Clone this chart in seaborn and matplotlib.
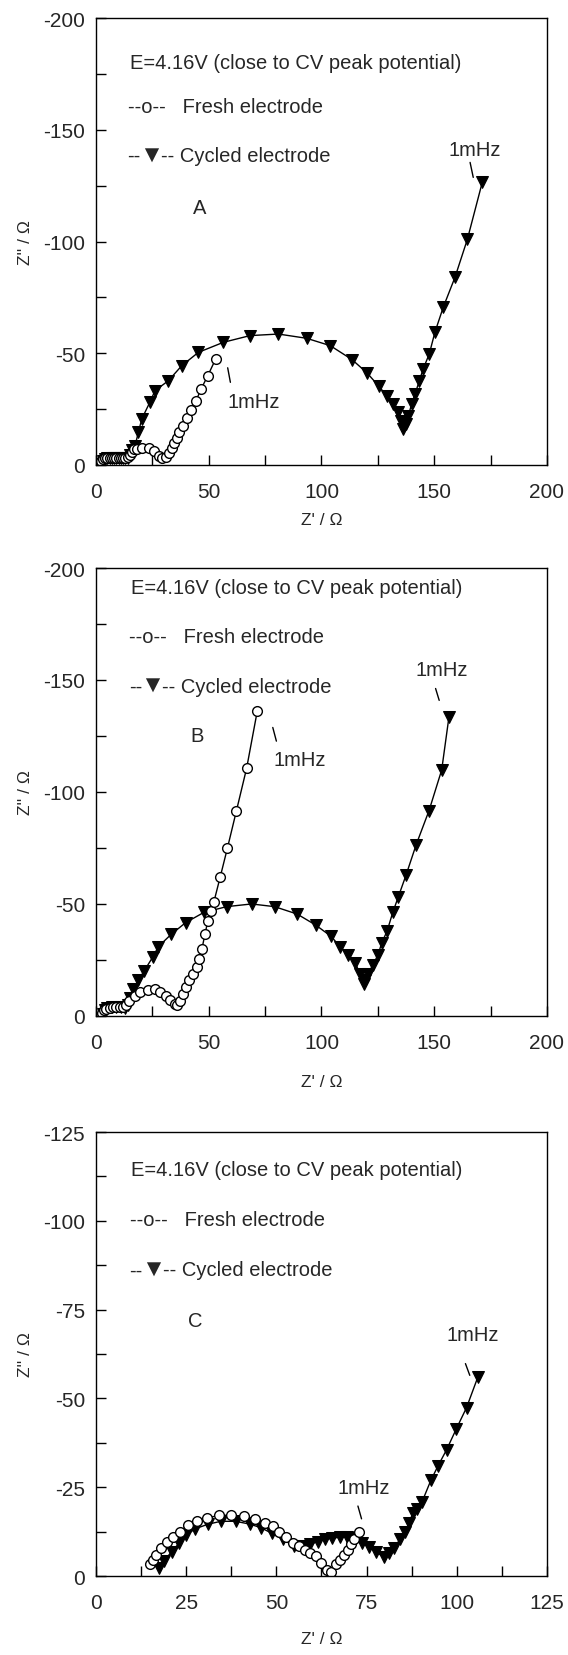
import matplotlib
matplotlib.use("Agg")
import matplotlib.pyplot as plt
from matplotlib.ticker import MultipleLocator
from matplotlib import transforms
import seaborn as sns

# ---------------- data ----------------
# Panel A
A_fresh_x = [1, 2, 3, 4, 5, 6, 7, 8, 9, 10, 11, 12, 13, 14, 15, 16, 17, 18.2, 20.4, 23.4, 25.7,
             27.9, 29.4, 30.9, 32.4, 33.6, 34.6, 35.8, 36.9, 38.4, 40.3, 42.1, 44.3, 46.6, 49.6, 53.0]
A_fresh_y = [-1, -2, -2.5, -3, -3, -3, -3, -3, -3, -3, -3, -3, -3, -3.5, -4.5, -6, -7, -7.1, -7.5, -7.4, -6.4,
             -4.1, -3, -3.4, -5.3, -7.8, -10, -12.3, -14.8, -17.5, -21.2, -24.6, -28.6, -34, -40, -47.3]
A_cyc_x = [2.5, 3, 4, 5, 6, 7, 8, 9, 10, 11, 12, 13, 14, 15, 16, 17.3, 18.8, 20.3, 23.9, 26.2, 32.1,
           38, 45.4, 56.5, 68.3, 80.9, 93.4, 103.9, 113.5, 120.2, 125.4, 128.9, 131.8, 134, 135.3, 136.3,
           137.4, 138.5, 140, 141.5, 143.4, 145.1, 147.8, 150.3, 154, 159.2, 164.7, 171.3]
A_cyc_y = [-0.4, -2, -2.5, -3, -3, -3, -3, -3, -3, -3, -3, -3, -3, -4.5, -6.5, -8.6, -14.6, -20.6, -28.1, -33.3, -37.7,
           -44.4, -50.4, -54.9, -57.9, -58.6, -56.7, -53.4, -47.2, -41.2, -35.3, -31, -27.3, -23.6, -19.5, -16.1,
           -18.5, -22, -27.3, -31.8, -37.7, -43, -49.7, -59.4, -70.6, -84, -101, -126.5]

# Panel B
B_fresh_x = [2.7, 3.5, 4.5, 6, 7.5, 9, 10.5, 12, 13.5, 14.8, 17.2, 19.6, 22.9, 26.1, 28.5, 30.9, 32.9, 35,
             36.1, 37.4, 38.6, 39.8, 41.4, 43, 44.6, 45.9, 47, 48.3, 49.6, 51, 52.3, 55.1, 58.3, 62.3, 66.8, 71.5]
B_fresh_y = [-1.5, -2.5, -3, -3.5, -4, -4, -4, -4, -5, -6.8, -9.1, -10.6, -11.8, -12.1, -10.9, -9.1, -7.1, -5.3,
             -4.8, -6.8, -9.8, -12.9, -15.9, -18.9, -22, -25.5, -30, -36.4, -42.4, -47, -51, -62.1, -75, -91.7, -110.6, -136]
B_cyc_x = [3, 4, 5, 7, 9, 11, 13, 14, 15, 16.4, 18.8, 21.3, 25.3, 27.7, 33.3, 39.8, 47.8, 57.9, 69, 79.2,
           89.2, 97.4, 104.2, 108.2, 111.8, 115, 117.1, 118.7, 119.5, 120.8, 122.7, 125.1, 126.7, 129.1,
           131.6, 134, 137.5, 142, 147.7, 153.3, 156.5]
B_cyc_y = [-0.8, -2.5, -3.5, -4, -4, -4, -3.5, -5, -8, -12, -15.9, -20, -26.5, -31, -36.4, -41.7, -46.2, -48.8, -50, -48.8,
           -45.5, -40.6, -35.6, -31, -27.3, -23.5, -18.9, -14.4, -16, -18.9, -22.7, -27.3, -32.6, -37.9,
           -46.2, -53, -62.9, -76.5, -91.7, -109.8, -133.3]

# Panel C
C_fresh_x = [14.9, 15.8, 16.6, 17.9, 19.6, 21.3, 23.2, 25.5, 28, 30.8, 34.1, 37.4, 40.9, 44.2, 46.8, 49,
             50.8, 52.8, 54.7, 56.4, 57.9, 59.4, 60.9, 62.5, 64, 65.2, 66.5, 67.7, 68.8, 69.8, 70.6, 71.6, 72.9]
C_fresh_y = [-3.3, -4.5, -5.9, -7.9, -9.7, -11, -12.5, -14.4, -15.4, -16.3, -17.1, -17.1, -16.8, -16.1, -14.8, -14.1,
             -12.5, -11, -9.4, -8.4, -7.4, -6.6, -5.5, -3.8, -1.7, -1.2, -3.3, -4.5, -5.9, -7.4, -8.9, -10.3, -12.5]
C_cyc_x = [17.4, 18.9, 21, 23, 25, 27.5, 31.1, 34.6, 38.7, 42.7, 45.7, 48.8, 51.8, 54.9, 57.4, 59.4, 61.4,
           63.5, 65.5, 67.5, 69.5, 71.6, 73.6, 75.6, 77.6, 79.7, 81.2, 82.7, 84.2, 85.7, 86.8, 87.8, 89, 90.3,
           92.8, 94.8, 97.2, 99.9, 102.7, 105.8]
C_cyc_y = [-2.3, -4.3, -6.9, -9.2, -11.5, -13.3, -14.6, -15.4, -15.4, -14.6, -13.6, -12, -10.3, -8.4, -8.4, -8.9, -9.7,
           -10.3, -10.7, -10.9, -10.9, -10.7, -9.4, -8.2, -6.9, -5.3, -6.4, -7.9, -10.3, -12.5, -15, -17.7, -19, -20.7,
           -26.9, -31, -35.6, -41.5, -47.4, -55.9]

panel_letters = ["A", "B", "C"]
title_text = "E=4.16V (close to CV peak potential)"
legend_fresh = "--o--   Fresh electrode"
legend_cycled_parts = ["--", "\u25BC", "-- Cycled electrode"]
x_label = "Z' / \u03A9"
y_label = "Z'' / \u03A9"

# ---------------- style ----------------
sns.set_theme(style="ticks")
plt.rcParams["font.family"] = ["Liberation Sans", "DejaVu Sans"]
plt.rcParams["axes.unicode_minus"] = False

FS = 14.5
fig = plt.figure(figsize=(5.68, 16.56), dpi=100)
fig.canvas.draw()
renderer = fig.canvas.get_renderer()

panels = [
    dict(rect=[0.169, 0.7186, 0.794, 0.2699], xmax=200, ymin=-200, xstep=50, ystep=50, xpad=8,
         fresh=(A_fresh_x, A_fresh_y), cyc=(A_cyc_x, A_cyc_y),
         txt=dict(E=(15, -180), F=(14, -160.5), Cy=(14, -138.5), L=(46, -115)),
         ann=[((168, -141), (165.9, -135.4), (167.3, -128.7)),
              ((70, -28.5), (58.4, -43.5), (59.6, -37))]),
    dict(rect=[0.169, 0.3859, 0.794, 0.2705], xmax=200, ymin=-200, xstep=50, ystep=50, xpad=16,
         fresh=(B_fresh_x, B_fresh_y), cyc=(B_cyc_x, B_cyc_y),
         txt=dict(E=(15.5, -191.5), F=(14.5, -169.5), Cy=(14.5, -147.3), L=(44.6, -125)),
         ann=[((153.3, -154.5), (150.6, -146.2), (152.2, -140.9)),
              ((90.5, -114.4), (78.4, -128.8), (80, -122.7))]),
    dict(rect=[0.169, 0.0477, 0.794, 0.2681], xmax=125, ymin=-125, xstep=25, ystep=25, xpad=14,
         fresh=(C_fresh_x, C_fresh_y), cyc=(C_cyc_x, C_cyc_y),
         txt=dict(E=(9.8, -114.4), F=(9.3, -100.3), Cy=(9.3, -86.2), L=(27.5, -72)),
         ann=[((104.5, -68), (102.4, -59.8), (103.6, -56.5)),
              ((74.1, -24.8), (72.6, -19.7), (73.6, -16.1))]),
]

for i, p in enumerate(panels):
    ax = fig.add_axes(p["rect"])
    fx, fy = p["fresh"]
    cx, cy = p["cyc"]
    sns.lineplot(x=cx, y=cy, ax=ax, sort=False, estimator=None, color="black", linewidth=1.0,
                 marker="v", markersize=8.5, markerfacecolor="black", markeredgecolor="black")
    sns.lineplot(x=fx, y=fy, ax=ax, sort=False, estimator=None, color="black", linewidth=1.0,
                 marker="o", markersize=7, markerfacecolor="white", markeredgecolor="black",
                 markeredgewidth=1.0)
    ax.set_xlim(0, p["xmax"])
    ax.set_ylim(0, p["ymin"])
    ax.xaxis.set_major_locator(MultipleLocator(p["xstep"]))
    ax.xaxis.set_minor_locator(MultipleLocator(p["xstep"] / 2))
    ax.yaxis.set_major_locator(MultipleLocator(p["ystep"]))
    ax.yaxis.set_minor_locator(MultipleLocator(p["ystep"] / 2))
    ax.tick_params(axis="both", which="both", direction="in", length=7, width=1.0, color="black",
                   top=False, right=False)
    ax.tick_params(axis="x", which="major", labelsize=15, pad=12)
    ax.tick_params(axis="y", which="major", labelsize=15, pad=8)
    for s in ax.spines.values():
        s.set_visible(True)
        s.set_color("black")
        s.set_linewidth(1.0)
    ax.set_xlabel(x_label, fontsize=12.5, labelpad=p["xpad"])
    ax.set_ylabel(y_label, fontsize=12.5, labelpad=7)
    ax.grid(False)
    ax.set_facecolor("white")

    t = p["txt"]
    ax.text(*t["E"], title_text, fontsize=FS, ha="left", va="center")
    ax.text(*t["F"], legend_fresh, fontsize=FS, ha="left", va="center")
    # cycled legend line built from chained pieces (larger triangle glyph), tightly spaced
    tr = ax.transData
    sizes = [FS, FS + 3, FS]
    trims = [-1.5, -2.5, 0]
    for part, fs, trim in zip(legend_cycled_parts, sizes, trims):
        txt = ax.text(*t["Cy"], part, fontsize=fs, ha="left", va="center", transform=tr)
        txt.draw(renderer)
        ex = txt.get_window_extent(renderer)
        tr = transforms.offset_copy(txt.get_transform(), fig=fig, x=ex.width + trim, units="dots")
    ax.text(*t["L"], panel_letters[i], fontsize=FS, ha="center", va="center")
    for (lab, p0, p1) in p["ann"]:
        ax.text(*lab, "1mHz", fontsize=FS, ha="center", va="center")
        ax.plot([p0[0], p1[0]], [p0[1], p1[1]], color="black", linewidth=1.0)

fig.savefig("out.png", dpi=100, facecolor="white")
